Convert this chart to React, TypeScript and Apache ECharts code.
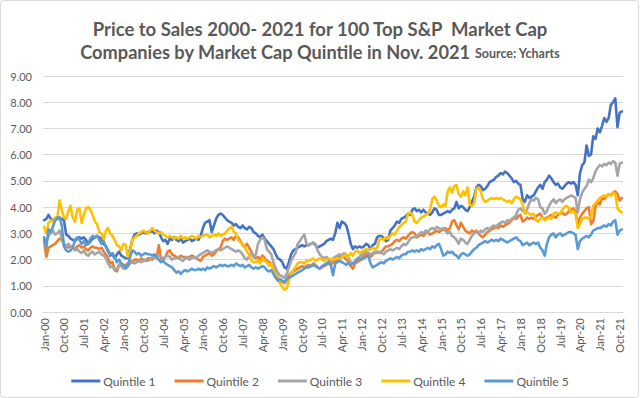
import React, { useEffect, useRef } from "react";
import * as echarts from "echarts";

const MONTHS = ["Jan", "Feb", "Mar", "Apr", "May", "Jun", "Jul", "Aug", "Sep", "Oct", "Nov", "Dec"];
const N_MONTHS = 263; // Jan-00 .. Nov-21
const categories: string[] = [];
for (let i = 0; i < N_MONTHS; i++) {
  categories.push(`${MONTHS[i % 12]}-${String(Math.floor(i / 12)).padStart(2, "0")}`);
}

const TITLE_1 = "Price to Sales 2000- 2021 for 100 Top S&P  Market Cap";
const TITLE_2 = "Companies by Market Cap Quintile in Nov. 2021";
const SOURCE = "Source: Ycharts";
const SERIES_NAMES = ["Quintile 1", "Quintile 2", "Quintile 3", "Quintile 4", "Quintile 5"];
const COLORS = ["#4472C4", "#ED7D31", "#A5A5A5", "#FFC000", "#5B9BD5"];

const q1 = [
  3.5, 3.55, 3.7, 3.55, 3.5, 3.5, 3.55, 3.6, 3.55, 3.5, 2.95, 2.9,
  2.8, 2.75, 2.7, 2.8, 2.85, 2.8, 2.85, 2.75, 2.6, 2.7, 2.8, 2.85,
  2.9, 2.85, 2.8, 2.6, 2.5, 2.35, 2.15, 2.2, 2.05, 2.2, 2.3, 2.15,
  2.1, 2.05, 2.05, 2.4, 2.75, 2.95, 3.0, 2.95, 3.0, 3.05, 3.0, 3.05,
  3.05, 3.1, 3.0, 3.1, 3.05, 2.85, 2.7, 2.75, 2.6, 2.8, 2.75, 2.85,
  2.75, 2.7, 2.8, 2.65, 2.7, 2.75, 2.8, 2.7, 2.75, 2.8, 2.75, 2.9,
  3.2, 3.4, 3.45, 3.5, 3.05, 3.3, 3.55, 3.7, 3.75, 3.7, 3.6, 3.5,
  3.45, 3.4, 3.3, 3.35, 3.25, 3.2, 3.3, 3.2, 3.15, 3.25, 3.2, 3.05,
  3.0, 2.9, 2.85, 2.95, 2.8, 2.7, 2.6, 2.5, 2.4, 2.2, 2.05, 2.0,
  1.9, 1.7, 1.65, 1.9, 2.2, 2.35, 2.4, 2.45, 2.5, 2.55, 2.5, 2.55,
  2.55, 2.6, 2.65, 2.55, 2.45, 2.5, 2.55, 2.6, 2.7, 2.75, 2.8, 2.75,
  3.0, 3.4, 3.2, 3.45, 3.4, 3.3, 3.0, 2.6, 2.4, 2.5, 2.45, 2.5,
  2.45, 2.5, 2.6, 2.55, 2.4, 2.55, 2.6, 2.85, 2.9, 2.9, 2.8, 2.7,
  2.75, 3.1, 3.2, 3.3, 3.45, 3.4, 3.55, 3.6, 3.65, 3.75, 3.7, 3.9,
  3.95, 3.85, 3.9, 3.8, 3.9, 3.8, 3.75, 3.7, 3.8, 3.95, 3.9, 3.7,
  3.7, 3.75, 3.8, 3.85, 3.8, 3.9, 3.95, 4.2, 3.95, 4.05, 4.0, 3.9,
  3.85, 4.0, 4.2, 4.4, 4.75, 4.85, 4.8, 4.65, 4.7, 4.8, 4.95, 5.0,
  5.05, 5.15, 5.2, 5.3, 5.25, 5.35, 5.3, 5.2, 5.1, 4.95, 5.0, 4.9,
  4.85, 4.3, 4.2, 4.45, 4.35, 4.4, 4.45, 4.6, 4.75, 4.85, 4.7, 4.95,
  5.05, 5.2, 5.1, 4.95, 4.85, 4.9, 4.75, 4.7, 4.8, 4.9, 4.95, 4.9,
  4.95, 4.85, 4.45, 5.3, 5.6, 5.7, 6.35, 5.95, 6.0, 6.7, 6.6, 7.0,
  6.85, 7.1, 7.4, 7.25, 7.4, 7.9, 8.0, 8.15, 7.05, 7.6, 7.65,
];

const q2 = [
  2.7, 2.1, 2.45, 2.5, 2.55, 2.6, 2.7, 2.8, 2.75, 2.6, 2.5, 2.45,
  2.5, 2.45, 2.4, 2.5, 2.55, 2.45, 2.5, 2.4, 2.35, 2.45, 2.5, 2.45,
  2.45, 2.4, 2.45, 2.3, 2.2, 2.05, 1.85, 1.9, 1.6, 1.55, 1.8, 1.85,
  1.75, 1.8, 1.85, 1.95, 1.9, 2.0, 2.0, 1.95, 2.05, 2.0, 1.95, 2.05,
  2.05, 2.0, 2.1, 2.05, 2.55, 2.05, 2.0, 2.1, 2.3, 2.35, 2.2, 2.15,
  2.1, 2.05, 2.15, 2.1, 2.1, 2.05, 2.1, 2.15, 2.1, 2.05, 2.0, 1.95,
  2.1, 2.15, 2.2, 2.25, 2.15, 2.2, 2.3, 2.4, 2.45, 2.7, 2.8, 2.75,
  2.8, 2.85, 2.75, 2.9, 2.85, 2.7, 2.55, 2.5, 2.6, 2.45, 2.3, 2.1,
  2.05, 2.1, 2.0, 2.15, 2.05, 1.95, 1.9, 1.85, 1.7, 1.45, 1.3, 1.2,
  1.15, 1.1, 1.2, 1.4, 1.5, 1.55, 1.6, 1.65, 1.7, 1.75, 1.7, 1.75,
  1.8, 1.75, 1.85, 1.8, 1.7, 1.65, 1.7, 1.75, 1.8, 1.85, 1.8, 1.9,
  1.95, 2.0, 2.1, 2.15, 2.1, 2.0, 1.9, 1.75, 1.65, 1.85, 1.9, 1.95,
  2.05, 2.15, 2.2, 2.15, 2.1, 2.2, 2.25, 2.3, 2.25, 2.3, 2.4, 2.5,
  2.5, 2.55, 2.6, 2.7, 2.75, 2.7, 2.8, 2.85, 2.8, 2.9, 3.0, 3.05,
  3.0, 2.85, 2.9, 2.95, 2.9, 3.0, 3.05, 2.95, 3.0, 3.05, 3.1, 3.05,
  3.1, 3.15, 3.2, 3.1, 3.2, 3.45, 3.5, 3.3, 3.15, 3.4, 3.25, 3.1,
  3.05, 3.0, 3.1, 3.05, 3.1, 3.0, 2.9, 2.85, 2.95, 3.05, 3.1, 3.15,
  3.2, 3.25, 3.2, 3.3, 3.25, 3.3, 3.35, 3.4, 3.5, 3.6, 3.55, 3.65,
  3.7, 3.45, 3.5, 3.6, 3.55, 3.6, 3.55, 3.65, 3.7, 3.75, 3.6, 3.55,
  3.6, 3.65, 3.7, 3.65, 3.6, 3.7, 3.75, 3.8, 3.7, 3.75, 3.85, 3.9,
  3.95, 3.85, 3.3, 3.6, 3.75, 3.85, 3.95, 4.0, 3.35, 3.45, 4.0, 4.2,
  4.1, 4.35, 4.3, 4.4, 4.5, 4.45, 4.55, 4.6, 4.5, 4.25, 4.35,
];

const q3 = [
  2.8, 2.7, 2.9, 3.0, 3.1, 2.95, 3.0, 3.1, 2.85, 2.6, 2.5, 2.6,
  2.5, 2.45, 2.35, 2.4, 2.3, 2.25, 2.35, 2.2, 2.15, 2.25, 2.3, 2.2,
  2.25, 2.3, 2.2, 2.15, 2.05, 1.85, 1.7, 1.75, 1.6, 1.65, 1.8, 1.75,
  1.65, 1.7, 1.75, 1.85, 1.9, 1.85, 1.9, 1.95, 1.9, 1.95, 2.0, 1.95,
  2.0, 2.05, 2.1, 2.1, 2.15, 2.1, 2.05, 2.1, 2.15, 2.1, 2.0, 2.05,
  2.05, 2.1, 2.0, 1.95, 2.05, 2.1, 2.0, 2.05, 2.1, 2.05, 2.15, 2.2,
  2.25, 2.3, 2.35, 2.3, 2.25, 2.3, 2.35, 2.4, 2.35, 2.4, 2.45, 2.5,
  2.45, 2.4, 2.35, 2.3, 2.35, 2.3, 2.2, 2.05, 2.0, 2.15, 2.25, 2.1,
  2.2, 2.6, 2.75, 2.85, 2.75, 2.4, 2.3, 2.2, 1.9, 1.65, 1.5, 1.4,
  1.35, 1.3, 1.45, 1.7, 1.95, 2.1, 2.25, 2.6, 2.7, 2.85, 2.95, 2.6,
  2.55, 2.6, 2.65, 2.6, 2.35, 2.2, 2.1, 2.05, 2.1, 2.0, 1.95, 2.05,
  2.1, 2.15, 2.2, 2.15, 2.25, 2.2, 2.1, 1.9, 1.85, 1.95, 2.05, 2.1,
  2.2, 2.25, 2.3, 2.25, 2.2, 2.25, 2.3, 2.25, 2.3, 2.25, 2.2, 2.3,
  2.35, 2.4, 2.35, 2.4, 2.45, 2.4, 2.5, 2.6, 2.55, 2.65, 2.8, 2.85,
  2.85, 2.9, 2.95, 3.05, 3.0, 3.1, 3.05, 3.15, 3.2, 3.15, 3.25, 3.2,
  3.15, 3.2, 3.1, 3.0, 3.05, 2.9, 2.85, 2.75, 2.6, 2.8, 2.75, 2.65,
  2.6, 2.75, 2.9, 3.0, 3.05, 3.0, 3.1, 3.05, 3.15, 3.2, 3.15, 3.25,
  3.3, 3.25, 3.35, 3.4, 3.45, 3.4, 3.5, 3.45, 3.55, 3.6, 3.7, 3.9,
  3.95, 3.85, 3.8, 3.9, 4.15, 4.3, 4.25, 4.35, 4.3, 4.0, 3.95, 3.75,
  3.85, 4.05, 4.2, 4.3, 4.15, 4.25, 4.3, 4.2, 4.3, 4.35, 4.4, 4.45,
  4.4, 4.35, 3.8, 4.3, 4.55, 4.7, 4.8, 5.05, 4.95, 5.1, 5.35, 5.5,
  5.6, 5.55, 5.65, 5.6, 5.7, 5.65, 5.75, 5.7, 5.2, 5.65, 5.7,
];

const q4 = [
  3.25, 3.0, 3.4, 3.5, 3.45, 3.6, 3.6, 4.25, 3.9, 3.6, 3.55, 3.85,
  4.05, 3.6, 3.45, 3.9, 3.95, 3.4, 3.7, 3.95, 4.0, 3.9, 3.7, 3.45,
  3.35, 3.05, 3.0, 2.75, 3.1, 3.2, 3.0, 2.9, 2.75, 2.55, 2.5, 2.35,
  2.6, 2.55, 2.1, 2.3, 2.75, 2.85, 2.9, 3.0, 3.05, 3.1, 3.05, 3.0,
  3.1, 3.2, 3.1, 3.05, 3.0, 3.05, 2.95, 2.9, 2.85, 2.9, 2.85, 2.8,
  2.85, 2.8, 2.9, 2.8, 2.85, 2.8, 2.85, 2.9, 2.85, 2.8, 2.9, 2.85,
  2.9, 2.95, 2.95, 2.85, 2.9, 2.95, 2.9, 3.0, 2.9, 2.95, 3.0, 3.1,
  3.2, 3.25, 3.05, 3.0, 2.75, 2.65, 2.6, 2.45, 2.3, 2.2, 1.95, 1.9,
  1.9, 1.95, 1.85, 2.05, 1.95, 1.9, 1.75, 1.85, 1.6, 1.4, 1.2, 1.1,
  0.95, 0.85, 0.9, 1.2, 1.45, 1.6, 1.7, 1.85, 1.9, 1.9, 1.85, 1.95,
  1.95, 2.0, 2.05, 1.95, 2.0, 2.05, 2.0, 1.95, 2.0, 2.05, 2.0, 2.05,
  2.0, 2.05, 2.0, 2.1, 2.15, 2.2, 2.1, 2.25, 2.15, 2.3, 2.35, 2.25,
  2.3, 2.35, 2.4, 2.35, 2.4, 2.45, 2.4, 2.45, 2.75, 2.8, 2.75, 2.85,
  2.8, 2.9, 3.0, 2.95, 3.1, 3.25, 3.3, 3.4, 3.45, 3.75, 3.8, 3.7,
  3.45, 3.4, 3.5, 3.6, 3.65, 3.7, 3.75, 3.9, 4.3, 4.4, 4.25, 4.05,
  4.0, 4.1, 4.05, 4.6, 4.75, 4.55, 4.8, 4.85, 4.5, 4.4, 4.6, 4.45,
  4.75, 4.1, 4.05, 4.15, 4.7, 4.75, 4.6, 4.3, 4.2, 4.25, 4.3, 4.35,
  4.3, 4.35, 4.3, 4.35, 4.3, 4.25, 4.2, 4.25, 4.15, 4.3, 4.4, 4.35,
  4.3, 4.1, 3.75, 3.8, 3.75, 3.7, 3.75, 3.5, 3.45, 3.55, 3.6, 3.5,
  3.55, 3.6, 3.55, 3.75, 3.8, 3.75, 3.75, 3.9, 4.0, 4.05, 3.95, 3.8,
  3.85, 3.75, 3.2, 3.35, 3.55, 3.6, 3.6, 3.55, 3.65, 4.05, 4.15, 4.25,
  4.35, 4.4, 4.45, 4.4, 4.5, 4.45, 4.55, 4.5, 3.95, 3.85, 3.8,
];

const q5 = [
  2.85, 2.45, 3.15, 3.05, 3.25, 3.5, 3.6, 3.6, 3.3, 2.5, 2.35, 2.3,
  2.35, 2.45, 2.75, 2.85, 2.75, 2.6, 2.7, 2.55, 2.6, 2.8, 2.9, 2.85,
  2.9, 2.75, 2.6, 2.7, 2.5, 2.3, 2.2, 2.25, 2.1, 1.9, 2.0, 1.85,
  1.8, 1.65, 1.75, 2.1, 2.35, 2.3, 2.2, 2.25, 2.15, 2.2, 2.25, 2.2,
  2.2, 2.15, 2.2, 2.1, 2.0, 1.9, 1.95, 1.85, 1.8, 1.75, 1.7, 1.6,
  1.5, 1.55, 1.45, 1.55, 1.6, 1.55, 1.6, 1.65, 1.6, 1.6, 1.65, 1.6,
  1.65, 1.6, 1.7, 1.65, 1.7, 1.75, 1.7, 1.75, 1.8, 1.75, 1.8, 1.75,
  1.75, 1.8, 1.75, 1.85, 1.8, 1.75, 1.8, 1.7, 1.75, 1.8, 1.7, 1.65,
  1.7, 1.65, 1.7, 1.75, 1.7, 1.6, 1.55, 1.6, 1.45, 1.3, 1.2, 1.25,
  1.2, 1.15, 1.25, 1.3, 1.35, 1.4, 1.45, 1.5, 1.55, 1.6, 1.65, 1.7,
  1.7, 1.75, 1.8, 1.75, 1.7, 1.65, 1.75, 1.8, 1.85, 1.9, 1.8, 1.4,
  1.85, 1.9, 1.95, 1.9, 1.85, 1.8, 1.85, 1.8, 1.85, 1.9, 2.0, 2.05,
  2.0, 2.05, 2.1, 2.15, 1.85, 1.7, 1.75, 1.8, 1.85, 1.9, 1.85, 1.95,
  2.0, 2.05, 2.0, 2.05, 2.1, 2.05, 2.15, 2.2, 2.2, 2.3, 2.3, 2.35,
  2.3, 2.35, 2.3, 2.4, 2.35, 2.4, 2.45, 2.4, 2.5, 2.45, 2.55, 2.6,
  2.4, 2.15, 2.2, 2.3, 2.25, 2.3, 2.2, 2.15, 2.05, 2.2, 2.25, 2.2,
  2.15, 2.2, 2.3, 2.4, 2.45, 2.55, 2.6, 2.65, 2.7, 2.65, 2.7, 2.75,
  2.7, 2.75, 2.7, 2.8, 2.75, 2.7, 2.65, 2.7, 2.75, 2.8, 2.85, 2.75,
  2.7, 2.55, 2.6, 2.65, 2.55, 2.6, 2.65, 2.6, 2.65, 2.45, 2.35, 2.15,
  2.6, 2.85, 2.95, 3.0, 2.85, 2.95, 3.0, 2.9, 2.95, 3.0, 3.05, 3.05,
  3.0, 2.95, 2.4, 2.7, 2.8, 2.85, 2.9, 2.85, 2.95, 3.1, 3.15, 3.2,
  3.2, 3.25, 3.3, 3.25, 3.35, 3.3, 3.45, 3.5, 2.95, 3.1, 3.15,
];

const SERIES_DATA = [q1, q2, q3, q4, q5];

const Y_MIN = 0;
const Y_MAX = 9;
const Y_STEP = 1;

const FONT = "Lato, 'Open Sans', sans-serif";
const TEXT_COLOR = "#595959";
const GRID_COLOR = "#D9D9D9";

export default function App() {
  const ref = useRef<HTMLDivElement>(null);

  useEffect(() => {
    document.body.style.margin = "0";
    if (!ref.current) return;
    const chart = echarts.init(ref.current, undefined, { renderer: "svg" });
    chart.setOption({
      animation: false,
      backgroundColor: "#ffffff",
      textStyle: { fontFamily: FONT },
      graphic: [
        {
          type: "rect",
          shape: { x: 0.5, y: 0.5, width: 638, height: 397, r: 3 },
          style: { fill: "none", stroke: GRID_COLOR, lineWidth: 1 },
          silent: true,
        },
      ],
      title: [
        {
          text: TITLE_1,
          left: "center",
          top: 14,
          textStyle: { fontFamily: FONT, fontSize: 18.5, fontWeight: "bold", color: TEXT_COLOR },
        },
        {
          text: `{a|${TITLE_2}} {b|${SOURCE}}`,
          left: "center",
          top: 38,
          textStyle: {
            fontFamily: FONT,
            rich: {
              a: { fontFamily: FONT, fontSize: 18.2, fontWeight: "bold", color: TEXT_COLOR },
              b: { fontFamily: FONT, fontSize: 12.5, fontWeight: "bold", color: TEXT_COLOR, padding: [3, 0, 0, 0] },
            },
          },
        },
      ],
      legend: {
        data: SERIES_NAMES,
        bottom: 6,
        left: "center",
        icon: "rect",
        itemWidth: 29,
        itemHeight: 3,
        itemGap: 19,
        textStyle: { fontFamily: FONT, fontSize: 12, color: TEXT_COLOR, padding: [0, 0, 0, -2] },
      },
      grid: { left: 43, right: 17, top: 76, bottom: 86 },
      xAxis: {
        type: "category",
        data: categories,
        boundaryGap: true,
        axisLine: { show: true, lineStyle: { color: GRID_COLOR } },
        axisTick: { show: false },
        axisLabel: {
          interval: 8,
          rotate: 90,
          margin: 6,
          fontFamily: FONT,
          fontSize: 11,
          color: TEXT_COLOR,
        },
      },
      yAxis: {
        type: "value",
        min: Y_MIN,
        max: Y_MAX,
        interval: Y_STEP,
        axisLine: { show: false },
        axisTick: { show: false },
        splitLine: { lineStyle: { color: GRID_COLOR, width: 1 } },
        axisLabel: {
          margin: 11,
          fontFamily: FONT,
          fontSize: 11,
          color: TEXT_COLOR,
          formatter: (v: number) => v.toFixed(2),
        },
      },
      series: SERIES_NAMES.map((name, k) => ({
        name,
        type: "line",
        data: SERIES_DATA[k],
        showSymbol: false,
        symbol: "none",
        lineStyle: { width: 2.6, color: COLORS[k], join: "round", cap: "round" },
        itemStyle: { color: COLORS[k] },
      })),
    });
    return () => chart.dispose();
  }, []);

  return <div ref={ref} style={{ width: 640, height: 398 }} />;
}
